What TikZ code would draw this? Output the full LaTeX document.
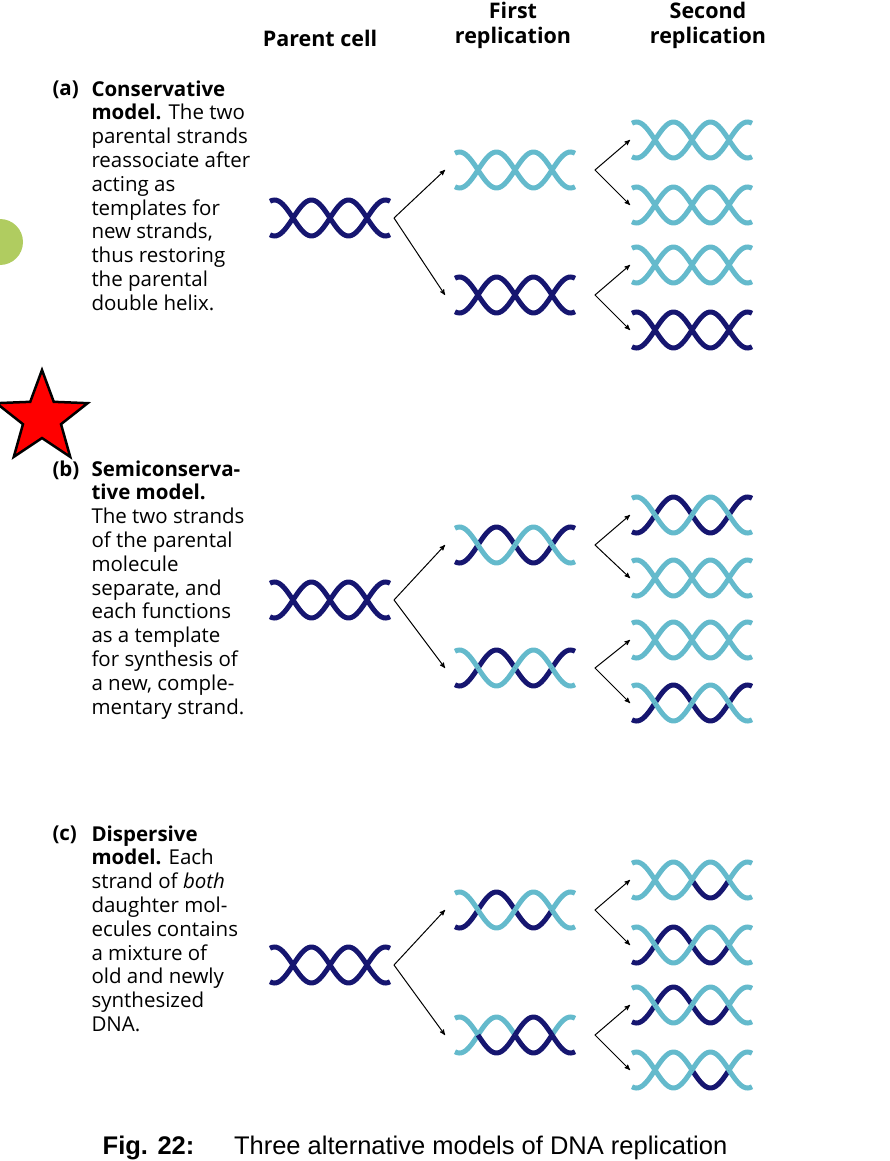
\documentclass[tikz,border=0pt]{standalone}
\usepackage{fontspec}
\setmainfont{Open Sans}
\newfontfamily\capfont{Liberation Sans}
\usetikzlibrary{arrows, shapes.geometric}
\definecolor{old}{RGB}{22,22,112}
\definecolor{new}{RGB}{100,186,204}
\definecolor{leaf}{RGB}{176,204,96}
\tikzset{strand/.style={line width=5pt},
  label/.style={anchor=north west, align=left, inner sep=0pt,
    font=\fontsize{20.5}{23.8}\selectfont},
  head/.style={align=center, font=\fontsize{21.5}{25}\selectfont\bfseries}}
% helix: position, then four segments of each strand
\newcommand\dnahelix[9]{%
  \begin{scope}[shift={(#1)}]
    \draw[strand,#2] plot[smooth,samples=12,domain=-60:-37] (\x,{18*sin(180*\x/37)});
    \draw[strand,#3] plot[smooth,samples=18,domain=-37:0] (\x,{18*sin(180*\x/37)});
    \draw[strand,#4] plot[smooth,samples=18,domain=0:37] (\x,{18*sin(180*\x/37)});
    \draw[strand,#5] plot[smooth,samples=12,domain=37:60] (\x,{18*sin(180*\x/37)});
    \draw[strand,#6] plot[smooth,samples=12,domain=-60:-37] (\x,{-18*sin(180*\x/37)});
    \draw[strand,#7] plot[smooth,samples=18,domain=-37:0] (\x,{-18*sin(180*\x/37)});
    \draw[strand,#8] plot[smooth,samples=18,domain=0:37] (\x,{-18*sin(180*\x/37)});
    \draw[strand,#9] plot[smooth,samples=12,domain=37:60] (\x,{-18*sin(180*\x/37)});
  \end{scope}}
\newcommand\oldhelix[1]{\dnahelix{#1}{old}{old}{old}{old}{old}{old}{old}{old}}
\newcommand\newhelix[1]{\dnahelix{#1}{new}{new}{new}{new}{new}{new}{new}{new}}
\newcommand\halfhelix[1]{\dnahelix{#1}{old}{old}{old}{old}{new}{new}{new}{new}}

\begin{document}
\begin{tikzpicture}[x=1pt,y=-1pt,>=stealth',line width=1pt]
\useasboundingbox (0,0) rectangle (889,1161);

% column heads
\node[head] (hp) at (320,38) {Parent cell};
\node[head] (hf) at (513,25) {First\\replication};
\node[head] (hs) at (708,25) {Second\\replication};

% helix positions
\coordinate (a0) at (330,218);
\coordinate (a1) at (515,170);  \coordinate (a2) at (515,295);
\coordinate (a11) at (692,140); \coordinate (a12) at (692,205);
\coordinate (a21) at (692,265); \coordinate (a22) at (692,330);
\coordinate (b0) at (330,600);
\coordinate (b1) at (515,545);  \coordinate (b2) at (515,668);
\coordinate (b11) at (692,515); \coordinate (b12) at (692,578);
\coordinate (b21) at (692,640); \coordinate (b22) at (692,703);
\coordinate (c0) at (330,965);
\coordinate (c1) at (515,910);  \coordinate (c2) at (515,1035);
\coordinate (c11) at (692,880); \coordinate (c12) at (692,945);
\coordinate (c21) at (692,1005);\coordinate (c22) at (692,1070);

% (a) conservative
\oldhelix{a0}
\newhelix{a1} \oldhelix{a2}
\newhelix{a11} \newhelix{a12} \newhelix{a21} \oldhelix{a22}

% (b) semiconservative
\oldhelix{b0}
\halfhelix{b1} \halfhelix{b2}
\halfhelix{b11} \newhelix{b12} \newhelix{b21} \halfhelix{b22}

% (c) dispersive
\oldhelix{c0}
\dnahelix{c1}{old}{old}{old}{new}{new}{new}{new}{new}
\dnahelix{c2}{new}{new}{old}{new}{new}{old}{old}{old}
\dnahelix{c11}{new}{new}{old}{new}{new}{new}{new}{new}
\dnahelix{c12}{old}{old}{old}{new}{new}{new}{new}{new}
\dnahelix{c21}{old}{old}{old}{new}{new}{new}{new}{new}
\dnahelix{c22}{new}{new}{old}{new}{new}{new}{new}{new}

% arrows
\foreach \m in {a,b,c}{
  \draw[->] ([xshift=64]\m0) -- ([xshift=-70]\m1);
  \draw[->] ([xshift=64]\m0) -- ([xshift=-70]\m2);
  \draw[<->] ([xshift=-62]\m11) -- ([xshift=80]\m1) -- ([xshift=-62]\m12);
  \draw[<->] ([xshift=-62]\m21) -- ([xshift=80]\m2) -- ([xshift=-62]\m22);
}

% model texts
\node[label] (ta) at (52,80) {\textbf{(a)}};
\node[label] (tat) at (91,80) {\textbf{Conservative}\\\textbf{model.} The two\\parental strands\\reassociate after\\acting as\\templates for\\new strands,\\thus restoring\\the parental\\double helix.};
\node[label] (tb) at (52,460) {\textbf{(b)}};
\node[label] (tbt) at (91,460) {\textbf{Semiconserva-}\\\textbf{tive model.}\\The two strands\\of the parental\\molecule\\separate, and\\each functions\\as a template\\for synthesis of\\a new, comple-\\mentary strand.};
\node[label] (tc) at (52,825) {\textbf{(c)}};
\node[label] (tct) at (91,825) {\textbf{Dispersive}\\\textbf{model.} Each\\strand of \textit{both}\\daughter mol-\\ecules contains\\a mixture of\\old and newly\\synthesized\\DNA.};

% marks
\fill[leaf] (0,265) arc[start angle=90,end angle=-90,radius=23] -- cycle;
\node[star, star points=5, star point ratio=2.4, minimum size=96pt,
  fill=red, draw=black, line width=2.5pt] (mark) at (42,418) {};

% caption
\node[font=\capfont\fontsize{25.5}{28}\selectfont, inner sep=0pt] (cap) at (415,1148)
  {\textbf{Fig. 22:}\quad\ \ Three alternative models of DNA replication};
\end{tikzpicture}
\end{document}
